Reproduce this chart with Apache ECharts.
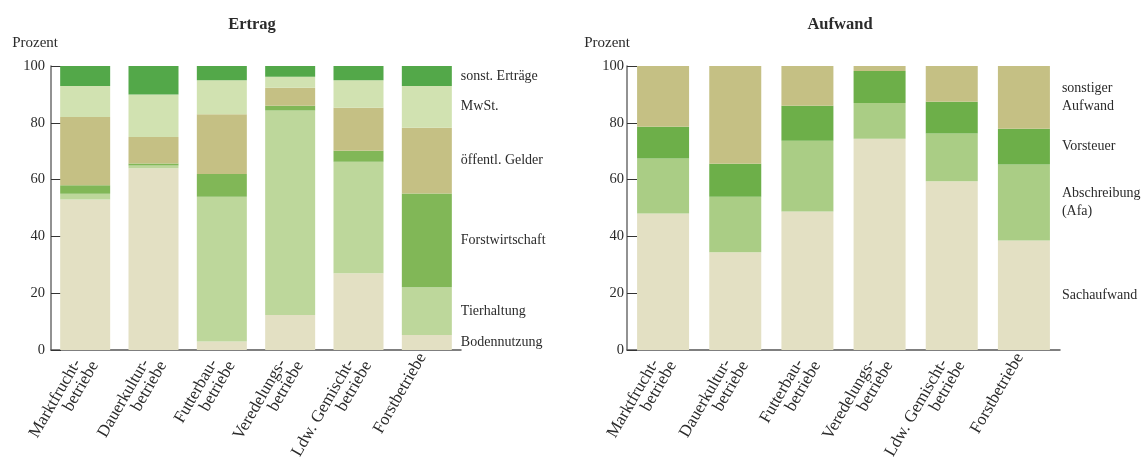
<!DOCTYPE html>
<html>
<head>
<meta charset="utf-8">
<script src="https://cdn.jsdelivr.net/npm/echarts@6/dist/echarts.min.js"></script>
<style>
  html, body { margin: 0; padding: 0; background: #fff; }
  #chart { width: 1145px; height: 457px; }
</style>
</head>
<body>
<div id="chart"></div>
<script>
// Betriebsformen (x-Achse)
const categories = [
    'Marktfrucht-\nbetriebe',
    'Dauerkultur-\nbetriebe',
    'Futterbau-\nbetriebe',
    'Veredelungs-\nbetriebe',
    'Ldw. Gemischt-\nbetriebe',
    'Forstbetriebe'
];
const yTicks = [0, 20, 40, 60, 80, 100];

// Ertrag, Anteile in Prozent (von unten nach oben)
const bodennutzung    = [53.0, 64.0,  3.0, 12.3, 27.0,  5.3];
const tierhaltung     = [ 2.0,  1.0, 51.0, 72.0, 39.3, 16.8];
const forstwirtschaft = [ 3.0,  0.7,  8.0,  1.7,  3.9, 33.0];
const oeffGelder      = [24.0,  9.3, 21.0,  6.3, 15.1, 23.2];
const mwst            = [11.0, 15.0, 12.0,  3.9,  9.7, 14.7];
const sonstErtraege   = [ 7.0, 10.0,  5.0,  3.8,  5.0,  7.0];

// Aufwand, Anteile in Prozent
const sachaufwand     = [48.1, 34.4, 48.8, 74.4, 59.4, 38.6];
const abschreibung    = [19.3, 19.6, 24.9, 12.6, 16.8, 26.7];
const vorsteuer       = [11.2, 11.6, 12.3, 11.2, 11.2, 12.6];
const sonstAufwand    = [21.4, 34.4, 14.0,  1.8, 12.6, 22.1];

const ertragNames  = ['Bodennutzung', 'Tierhaltung', 'Forstwirtschaft', 'öffentl. Gelder', 'MwSt.', 'sonst. Erträge'];
const ertragData   = [bodennutzung, tierhaltung, forstwirtschaft, oeffGelder, mwst, sonstErtraege];
const ertragColors = ['#e3e0c3', '#bdd79b', '#81b757', '#c5c084', '#d1e2b1', '#53a849'];

const aufwandNames  = ['Sachaufwand', 'Abschreibung\n(Afa)', 'Vorsteuer', 'sonstiger\nAufwand'];
const aufwandData   = [sachaufwand, abschreibung, vorsteuer, sonstAufwand];
const aufwandColors = ['#e3e0c3', '#aacd85', '#6daf49', '#c5c084'];

const FONT = '"Liberation Serif", "DejaVu Serif", serif';

// Beschriftung nur am letzten Balken (Forstbetriebe)
function makeSeries(names, data, colors, idx, barWidth, dist) {
    return names.map((name, s) => ({
        name: name,
        type: 'bar',
        stack: 'st' + idx,
        xAxisIndex: idx,
        yAxisIndex: idx,
        barWidth: barWidth,
        itemStyle: { color: colors[s] },
        data: data[s].map((v, i) => i === data[s].length - 1
            ? { value: v, label: { show: true } }
            : v),
        label: {
            show: false,
            position: 'right',
            distance: dist,
            formatter: () => name,
            fontFamily: FONT,
            fontSize: 14,
            lineHeight: 18,
            color: '#2b2b2b'
        }
    }));
}

function yAxis(idx, margin, namePad) {
    return {
        type: 'value',
        gridIndex: idx,
        min: yTicks[0],
        max: yTicks[yTicks.length - 1],
        interval: 20,
        name: 'Prozent',
        nameLocation: 'end',
        nameGap: 15,
        nameTextStyle: {
            fontFamily: FONT, fontSize: 15, color: '#2b2b2b',
            align: 'right', padding: [0, namePad, 0, 0]
        },
        axisLine: { show: true, lineStyle: { color: '#6e6e6e', width: 1.5 } },
        axisTick: { show: true, inside: true, length: 10, lineStyle: { color: '#333' } },
        splitLine: { show: false },
        axisLabel: { fontFamily: FONT, fontSize: 14.5, color: '#2b2b2b', margin: margin }
    };
}

// erste Zeile sitzt am Tick, zweite Zeile hängt darunter (leicht vorgezogen)
const labelLine = { fontFamily: FONT, fontSize: 17, lineHeight: 16, color: '#2b2b2b' };

function xAxis(idx) {
    return {
        type: 'category',
        gridIndex: idx,
        data: categories,
        axisLine: { lineStyle: { color: '#555', width: 1.5 } },
        axisTick: { show: false },
        axisLabel: {
            interval: 0,
            rotate: 60,
            margin: 7,
            verticalAlign: 'top',
            padding: [-13, 0, 0, 0],
            fontFamily: FONT,
            fontSize: 17,
            lineHeight: 16,
            color: '#2b2b2b',
            formatter: (v) => {
                const parts = v.split('\n');
                return parts.length > 1
                    ? '{a|' + parts[0] + '}\n{b|' + parts[1] + '}'
                    : '{b|' + v + '}';
            },
            rich: {
                a: Object.assign({ padding: [0, 7, 0, 0] }, labelLine),
                b: Object.assign({}, labelLine)
            }
        }
    };
}

const chart = echarts.init(document.getElementById('chart'));

const option = {
    animation: false,
    title: [
        { text: 'Ertrag', left: 247, top: 11, textAlign: 'center',
          textStyle: { fontFamily: FONT, fontSize: 16.5, fontWeight: 'bold', color: '#2b2b2b' } },
        { text: 'Aufwand', left: 835, top: 11, textAlign: 'center',
          textStyle: { fontFamily: FONT, fontSize: 16.5, fontWeight: 'bold', color: '#2b2b2b' } }
    ],
    grid: [
        { left: 51, top: 66, width: 410, height: 284, outerBoundsMode: 'none' },
        { left: 627, top: 66, width: 433, height: 284, outerBoundsMode: 'none' }
    ],
    xAxis: [xAxis(0), xAxis(1)],
    yAxis: [yAxis(0, 6, -7), yAxis(1, 3, -3)],
    series: [
        ...makeSeries(ertragNames, ertragData, ertragColors, 0, 50, 9),
        ...makeSeries(aufwandNames, aufwandData, aufwandColors, 1, 52, 12)
    ]
};

chart.setOption(option);
</script>
</body>
</html>
